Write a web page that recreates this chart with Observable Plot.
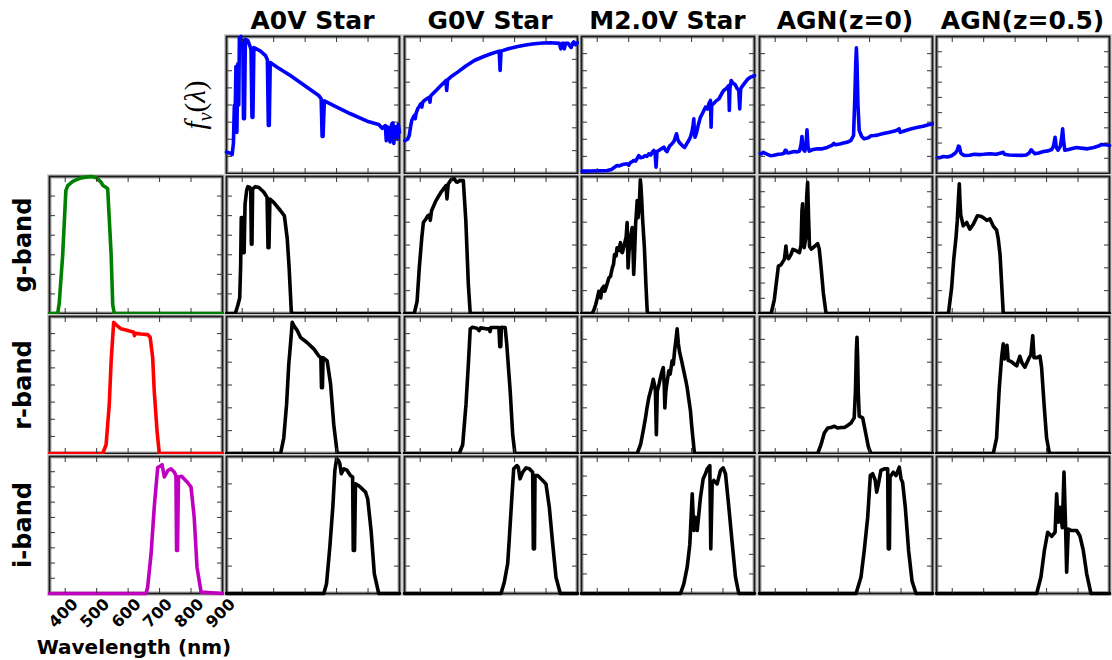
<!DOCTYPE html>
<html><head><meta charset="utf-8">
<script src="https://cdn.jsdelivr.net/npm/d3@7"></script>
<script src="https://cdn.jsdelivr.net/npm/@observablehq/plot@0.6"></script>
<style>
body{margin:0;background:#fff;}
#fig{position:relative;width:1112px;height:660px;overflow:hidden;font-family:"DejaVu Sans",sans-serif;}
.title{position:absolute;top:8px;width:173px;text-align:center;font:bold 25px/1 "DejaVu Sans",sans-serif;white-space:nowrap;color:#000;}
.rot{position:absolute;transform:translate(-50%,-50%) rotate(-90deg);white-space:nowrap;line-height:1;color:#000;}
.rowlab{font:bold 24px/1 "DejaVu Sans",sans-serif;}
.flab{font:29px/1 "Liberation Serif",serif;}
.xlab{position:absolute;top:637px;left:34px;width:200px;text-align:center;font:bold 20px/1 "DejaVu Sans",sans-serif;white-space:nowrap;}
</style></head><body><div id="fig"></div>
<script>
// ---------- labels ----------
const colTitles = ["A0V Star", "G0V Star", "M2.0V Star", "AGN(z=0)", "AGN(z=0.5)"];
const rowTitles = ["g-band", "r-band", "i-band"];
const xTicks = [400, 500, 600, 700, 800];
const xTickLabels = [400, 500, 600, 700, 800, 900];
const xDomain = [350, 900];

// ---------- spectra (wavelength nm, relative f_nu) ----------
const specA0V = [[350,0.156],[360,0.15],[368,0.139],[372,0.22],[375,0.50],[377,0.33],[380,0.78],[383,0.30],[386,0.80],[389,0.50],[391,0.99],[396,1.0],[402,0.95],[404,0.40],[407,0.40],[410,0.98],[418,0.97],[426,0.92],[428,0.90],[431,0.41],[434,0.41],[437,0.92],[458,0.893],[474,0.861],[480,0.83],[483,0.35],[486,0.35],[489,0.81],[511,0.776],[553,0.715],[606,0.63],[643,0.57],[651,0.545],[654,0.27],[657,0.27],[661,0.53],[691,0.496],[744,0.436],[797,0.382],[834,0.358],[845,0.33],[850,0.34],[855,0.35],[858,0.24],[862,0.34],[867,0.33],[870,0.23],[875,0.36],[879,0.37],[882,0.22],[886,0.34],[889,0.34],[893,0.25],[896,0.36],[900,0.30]];
const specG0V = [[351,0.24],[360,0.25],[365,0.277],[370,0.35],[373,0.387],[378,0.41],[381,0.423],[384,0.40],[387,0.44],[392,0.472],[397,0.49],[402,0.509],[405,0.485],[408,0.52],[413,0.533],[421,0.545],[429,0.557],[431,0.52],[433,0.565],[440,0.582],[452,0.61],[466,0.642],[482,0.679],[484,0.606],[487,0.684],[500,0.71],[519,0.74],[545,0.785],[572,0.825],[600,0.852],[625,0.874],[651,0.893],[654,0.752],[657,0.893],[680,0.91],[710,0.927],[740,0.94],[763,0.947],[790,0.952],[816,0.954],[842,0.95],[847,0.91],[852,0.95],[856,0.95],[858,0.91],[862,0.95],[870,0.95],[876,0.93],[880,0.92],[884,0.95],[888,0.96],[893,0.94],[897,0.95],[900,0.955]];
const specM2 = [[352,0.017],[380,0.018],[410,0.02],[432,0.022],[445,0.03],[455,0.045],[463,0.058],[470,0.055],[480,0.065],[495,0.071],[500,0.06],[505,0.08],[510,0.085],[516,0.095],[522,0.09],[527,0.11],[532,0.131],[537,0.115],[545,0.119],[552,0.13],[558,0.125],[564,0.144],[570,0.135],[575,0.155],[580,0.168],[584,0.15],[587,0.046],[590,0.16],[597,0.17],[604,0.18],[612,0.192],[617,0.17],[622,0.16],[630,0.2],[638,0.217],[645,0.24],[652,0.29],[656,0.25],[660,0.23],[665,0.217],[672,0.2],[678,0.19],[684,0.215],[691,0.241],[697,0.27],[702,0.314],[705,0.36],[707,0.399],[709,0.30],[711,0.265],[716,0.30],[722,0.36],[728,0.41],[734,0.436],[739,0.46],[744,0.484],[750,0.47],[755,0.51],[760,0.533],[762,0.338],[764,0.5],[770,0.51],[778,0.53],[787,0.545],[795,0.58],[802,0.606],[810,0.62],[818,0.642],[820,0.46],[822,0.62],[826,0.679],[831,0.66],[838,0.65],[845,0.62],[850,0.606],[853,0.472],[856,0.618],[862,0.64],[871,0.667],[879,0.69],[887,0.703],[895,0.71],[900,0.715]];
const specAGN0 = [[352,0.145],[357,0.144],[362,0.155],[367,0.148],[375,0.14],[385,0.13],[392,0.131],[400,0.135],[410,0.14],[420,0.142],[428,0.148],[432,0.17],[435,0.168],[438,0.15],[445,0.152],[460,0.16],[470,0.158],[477,0.163],[482,0.21],[485,0.27],[488,0.18],[494,0.163],[498,0.22],[501,0.319],[504,0.2],[508,0.163],[520,0.175],[535,0.18],[550,0.18],[565,0.19],[580,0.205],[586,0.22],[592,0.21],[605,0.215],[620,0.225],[630,0.229],[640,0.24],[649,0.277],[653,0.55],[656,0.80],[658,0.917],[660,0.80],[663,0.50],[667,0.314],[675,0.27],[683,0.253],[695,0.26],[705,0.275],[715,0.277],[725,0.28],[740,0.29],[760,0.30],[780,0.31],[790,0.32],[794,0.326],[797,0.30],[810,0.31],[830,0.325],[850,0.335],[870,0.345],[890,0.358],[904,0.367]];
const specAGN05 = [[352,0.115],[360,0.115],[372,0.124],[385,0.12],[398,0.13],[410,0.15],[416,0.17],[420,0.2],[423,0.195],[427,0.15],[432,0.14],[440,0.131],[455,0.133],[470,0.14],[485,0.138],[500,0.14],[520,0.144],[540,0.14],[555,0.15],[562,0.155],[566,0.14],[580,0.135],[600,0.133],[620,0.132],[635,0.135],[645,0.15],[651,0.173],[656,0.16],[662,0.145],[675,0.15],[690,0.16],[705,0.165],[716,0.175],[722,0.2],[727,0.265],[731,0.19],[736,0.17],[744,0.2],[748,0.26],[751,0.326],[754,0.24],[758,0.17],[770,0.175],[785,0.185],[796,0.19],[810,0.185],[830,0.18],[850,0.19],[865,0.2],[875,0.212],[890,0.21],[900,0.204]];

// ---------- filter throughputs ----------
const filtG = [[350,0],[376,0],[381,0.076],[392,0.43],[402,0.897],[408,0.934],[424,0.965],[450,0.99],[482,1.0],[500,0.99],[514,0.958],[520,0.934],[530,0.92],[535,0.91],[546,0.43],[551,0.064],[556,0],[900,0]];
const filtR = [[350,0],[519,0],[530,0.064],[540,0.358],[546,0.676],[554,0.958],[561,0.94],[577,0.91],[599,0.897],[618,0.885],[620,0.86],[623,0.877],[640,0.872],[662,0.868],[670,0.848],[678,0.70],[683,0.456],[692,0.162],[699,0],[900,0]];
const filtI = [[350,0],[657,0],[662,0.046],[673,0.29],[683,0.63],[694,0.92],[702,0.93],[708,0.94],[715,0.85],[726,0.898],[736,0.91],[747,0.885],[752,0.86],[754,0.314],[757,0.314],[760,0.85],[770,0.855],[789,0.81],[800,0.776],[810,0.557],[819,0.19],[832,0.01],[900,0]];

// ---------- filtered spectra ----------
const gA0V = [[350,0],[378,0],[386,0.06],[392,0.113],[395,0.35],[397,0.70],[400,0.68],[402,0.70],[404,0.444],[406,0.444],[409,0.80],[414,0.897],[418,0.926],[424,0.92],[427,0.90],[429,0.505],[431,0.505],[433,0.91],[442,0.926],[453,0.92],[469,0.885],[479,0.848],[482,0.48],[485,0.48],[488,0.836],[500,0.811],[522,0.75],[534,0.713],[543,0.55],[549,0.338],[556,0.015],[560,0],[900,0]];
const gG0V = [[350,0],[381,0],[390,0.088],[397,0.333],[405,0.554],[410,0.664],[418,0.69],[424,0.713],[430,0.72],[432,0.68],[436,0.75],[450,0.824],[466,0.885],[482,0.934],[485,0.836],[489,0.946],[498,0.976],[508,0.983],[515,0.96],[519,0.958],[525,0.97],[537,0.97],[545,0.676],[553,0.211],[559,0],[900,0]];
const gM2 = [[350,0],[384,0],[390,0.03],[395,0.064],[400,0.11],[405,0.162],[408,0.15],[411,0.113],[415,0.18],[421,0.199],[424,0.162],[428,0.19],[437,0.26],[442,0.27],[448,0.333],[452,0.36],[455,0.431],[460,0.42],[463,0.48],[468,0.46],[474,0.517],[477,0.45],[480,0.444],[484,0.48],[488,0.52],[492,0.56],[495,0.664],[497,0.45],[498,0.333],[501,0.45],[506,0.554],[509,0.60],[511,0.627],[514,0.45],[516,0.285],[519,0.45],[522,0.65],[525,0.75],[527,0.824],[530,0.70],[534,0.80],[537,0.976],[539,0.93],[541,0.848],[544,0.70],[550,0.48],[555,0.2],[559,0.015],[563,0],[900,0]];
const gAGN0 = [[350,0],[387,0],[397,0.10],[410,0.346],[418,0.355],[429,0.395],[432,0.45],[434,0.493],[437,0.42],[442,0.40],[450,0.43],[456,0.468],[465,0.46],[477,0.444],[482,0.50],[485,0.75],[487,0.80],[489,0.60],[492,0.48],[497,0.55],[500,0.85],[503,0.958],[506,0.70],[509,0.49],[515,0.47],[525,0.49],[535,0.51],[540,0.47],[545,0.355],[553,0.15],[561,0.01],[565,0],[900,0]];
const gAGN05 = [[350,0],[388,0],[398,0.186],[405,0.40],[412,0.554],[416,0.676],[420,0.85],[422.5,0.946],[425,0.80],[427,0.72],[435,0.64],[446,0.664],[456,0.615],[467,0.652],[475,0.69],[480,0.713],[490,0.71],[499,0.70],[510,0.68],[520,0.69],[530,0.64],[541,0.608],[546,0.55],[552,0.431],[562,0.01],[566,0],[900,0]];

const rA0V = [[350,0],[522,0],[532,0.113],[541,0.358],[548,0.652],[553.5,0.80],[559,0.958],[565,0.93],[575,0.897],[585,0.848],[606,0.81],[628,0.762],[643,0.713],[650,0.70],[652,0.48],[655,0.48],[657,0.70],[670,0.676],[681,0.505],[691,0.211],[702,0],[900,0]];
const rG0V = [[350,0],[524,0],[535,0.064],[545.5,0.358],[553,0.652],[559,0.91],[566,0.922],[580,0.915],[587,0.897],[592,0.917],[610,0.91],[620,0.91],[622,0.89],[625,0.92],[650,0.92],[653,0.78],[656,0.78],[658,0.922],[670,0.92],[675,0.80],[686,0.456],[694,0.137],[701,0],[900,0]];
const rM2 = [[350,0],[527,0],[537.6,0.064],[545,0.15],[553.5,0.26],[558,0.33],[564,0.407],[570,0.46],[575,0.505],[578,0.542],[582,0.50],[585,0.456],[588,0.137],[591,0.456],[596,0.50],[601,0.554],[606,0.60],[610,0.627],[613,0.50],[615,0.333],[618,0.45],[621,0.505],[627.6,0.603],[632,0.58],[638,0.676],[642,0.65],[646,0.75],[650,0.824],[654,0.91],[658,0.80],[662,0.738],[668,0.68],[675,0.603],[681,0.54],[686,0.48],[696.5,0.309],[700,0.211],[709,0],[900,0]];
const rAGN0 = [[350,0],[535,0],[545.5,0.064],[556,0.149],[567,0.186],[577,0.19],[588,0.199],[598,0.186],[610,0.19],[620,0.19],[630,0.205],[641,0.223],[651,0.26],[655,0.45],[658,0.75],[660,0.848],[662,0.70],[664,0.45],[667,0.272],[678,0.26],[688.6,0.137],[696,0.05],[704,0],[900,0]];
const rAGN05 = [[350,0],[530.6,0],[541,0.113],[549.6,0.48],[557,0.70],[562,0.80],[566,0.69],[570,0.75],[574,0.79],[578,0.68],[588,0.67],[605,0.64],[615,0.71],[622,0.66],[631,0.63],[645,0.70],[650,0.72],[656,0.86],[660,0.70],[670,0.70],[679,0.71],[684,0.63],[692,0.358],[700,0.113],[709,0],[900,0]];

const iA0V = [[350,0],[659.5,0],[668,0.071],[678.5,0.338],[688,0.63],[694.5,0.898],[700,0.983],[706,0.97],[710,0.95],[715,0.874],[723,0.91],[733,0.90],[744,0.861],[751,0.85],[753,0.314],[757,0.314],[760,0.80],[768,0.79],[776,0.776],[792,0.74],[799,0.69],[809.6,0.46],[820,0.144],[834,0],[900,0]];
const iG0V = [[350,0],[656.8,0],[667.3,0.083],[678,0.217],[683.2,0.40],[690.7,0.68],[697.1,0.91],[707.6,0.934],[711.9,0.922],[717.2,0.837],[725.7,0.885],[736.3,0.917],[746.9,0.91],[757.5,0.885],[759.6,0.326],[763.2,0.326],[764.9,0.861],[773.5,0.861],[789.3,0.825],[799.8,0.80],[810.4,0.63],[821.1,0.363],[831.6,0.119],[845.3,0],[900,0]];
const iM2 = [[350,0],[664.7,0],[675.3,0.07],[686,0.192],[694.4,0.36],[702,0.727],[707,0.46],[712.4,0.557],[717.8,0.46],[728.3,0.703],[736.8,0.837],[744.2,0.874],[749.6,0.91],[758,0.934],[761,0.326],[765.4,0.80],[770.6,0.825],[781.2,0.80],[791.9,0.898],[800.4,0.917],[807.8,0.874],[818.4,0.63],[829,0.37],[839.6,0.119],[850,0],[900,0]];
const iAGN0 = [[350,0],[657,0],[672.7,0.12],[683,0.314],[694,0.557],[702.3,0.861],[710,0.874],[718,0.825],[722.5,0.74],[729,0.81],[736,0.898],[746.8,0.91],[757.5,0.91],[759.5,0.326],[763,0.326],[765,0.85],[775.4,0.885],[784,0.86],[794.5,0.922],[800,0.837],[805,0.81],[813.5,0.63],[824,0.314],[835,0.09],[847.5,0],[900,0]];
const iAGN05 = [[350,0],[668.5,0],[682,0.12],[693,0.314],[703.5,0.447],[716,0.417],[727,0.447],[732,0.727],[737,0.52],[742.6,0.63],[750,0.48],[755.3,0.886],[760.6,0.47],[763.8,0.155],[769,0.47],[777.6,0.46],[795.6,0.46],[806,0.42],[816.7,0.314],[827.5,0.144],[841,0],[900,0]];

// y tick divisions per panel (number of intervals)
const spectraTickDivs = [8, 6, 8, 8, 9];
const filterTickDivs = [7, 8, 9];
const productTickDivs = [[7, 6, 6, 9, 6], [6, 8, 6, 6, 6], [5, 5, 7, 5, 5]];

const spectra = [specA0V, specG0V, specM2, specAGN0, specAGN05];
const filters = [filtG, filtR, filtI];
const filterColors = ["#008000", "#ff0000", "#bf00bf"];
const products = [[gA0V, gG0V, gM2, gAGN0, gAGN05], [rA0V, rG0V, rM2, rAGN0, rAGN05], [iA0V, iG0V, iM2, iAGN0, iAGN05]];

// ---------- layout ----------
const W = 173, H = 137, M = 4;
const colLeft = c => 48.5 + c * 177.5;
const rowTop = r => 36 + r * 140;
const fig = document.getElementById("fig");
const blank = () => "";

function panel(data, color, divs, col, row, withLabels) {
  const extra = withLabels ? 62 : 0;
  const yTicks = d3.range(1, divs).map(i => i / divs);
  const tickOpts = {tickFormat: blank, label: null, stroke: "#333", strokeWidth: 1};
  const marks = [
    Plot.frame({stroke: "#d2d2d2", strokeWidth: 5}),
    Plot.frame({stroke: "#1a1a1a", strokeWidth: 2}),
    Plot.line(data, {x: d => d[0], y: d => d[1], stroke: color, strokeWidth: 3.6, strokeLinejoin: "round", strokeLinecap: "round"}),
    Plot.axisX({anchor: "bottom", ticks: xTicks, tickSize: 5, dy: -5, ...tickOpts}),
    Plot.axisX({anchor: "top", ticks: xTicks, tickSize: 5, dy: 5, ...tickOpts}),
    Plot.axisY({anchor: "left", ticks: yTicks, tickSize: 6, dx: 6, ...tickOpts}),
    Plot.axisY({anchor: "right", ticks: yTicks, tickSize: 6, dx: -6, ...tickOpts})
  ];
  if (withLabels) {
    marks.push(Plot.axisX({anchor: "bottom", ticks: xTickLabels, tickSize: 0, tickPadding: 8, tickRotate: -45, dx: 10,
      fontSize: 16, fontWeight: "bold", fill: "#000", label: null}));
  }
  const svg = Plot.plot({
    width: W + 2 * M, height: H + 2 * M + extra,
    marginTop: M, marginRight: M, marginBottom: M + extra, marginLeft: M,
    x: {domain: xDomain},
    y: {domain: [0, 1]},
    style: {overflow: "visible", fontFamily: '"DejaVu Sans", sans-serif', background: "transparent"},
    marks
  });
  svg.style.position = "absolute";
  svg.style.left = (colLeft(col) - M) + "px";
  svg.style.top = (rowTop(row) - M) + "px";
  fig.appendChild(svg);
}

spectra.forEach((s, i) => panel(s, "#0000ff", spectraTickDivs[i], i + 1, 0, false));
filters.forEach((f, j) => panel(f, filterColors[j], filterTickDivs[j], 0, j + 1, j === 2));
products.forEach((rowData, j) => rowData.forEach((p, i) => panel(p, "#000", productTickDivs[j][i], i + 1, j + 1, false)));

// ---------- text ----------
colTitles.forEach((t, i) => {
  const d = document.createElement("div");
  d.className = "title";
  d.textContent = t;
  d.style.left = colLeft(i + 1) + "px";
  fig.appendChild(d);
});
rowTitles.forEach((t, j) => {
  const d = document.createElement("div");
  d.className = "rot rowlab";
  d.textContent = t;
  d.style.left = "23px";
  d.style.top = (rowTop(j + 1) + H / 2) + "px";
  fig.appendChild(d);
});
const fl = document.createElement("div");
fl.className = "rot flab";
fl.innerHTML = '<i>f</i><sub style="font-size:20px;font-style:italic">ν</sub>(<i>λ</i>)';
fl.style.left = "198px";
fl.style.top = "105px";
fig.appendChild(fl);
const xl = document.createElement("div");
xl.className = "xlab";
xl.textContent = "Wavelength (nm)";
fig.appendChild(xl);
</script></body></html>
